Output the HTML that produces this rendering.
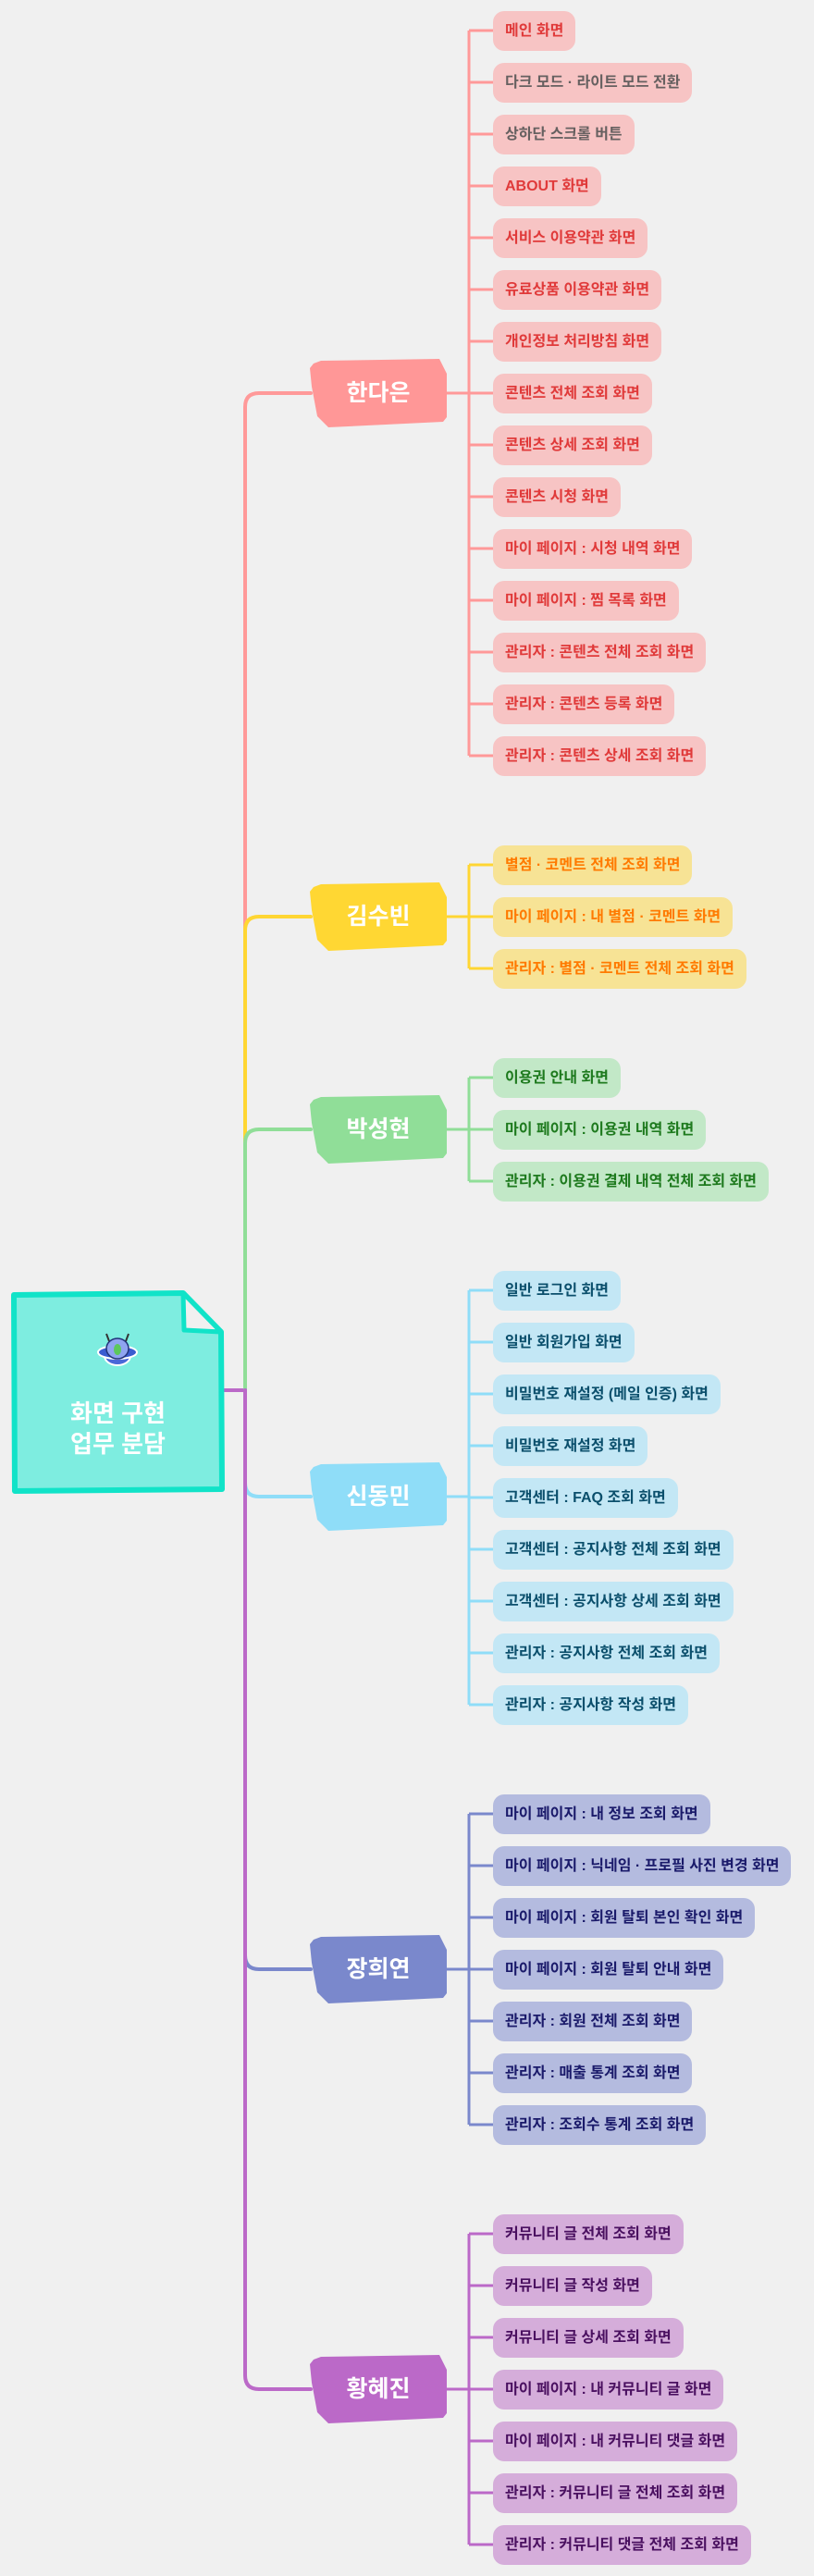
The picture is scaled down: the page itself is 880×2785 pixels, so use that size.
<!DOCTYPE html>
<html><head><meta charset="utf-8"><style>
html,body{margin:0;padding:0}
body{width:880px;height:2785px;background:#f0f0f0;position:relative;overflow:hidden;font-family:"Liberation Sans","Noto Sans CJK KR",sans-serif}
.leaf{position:absolute;left:533px;height:43px;line-height:43px;padding:0 13px;border-radius:12px;font-size:16px;font-weight:bold;white-space:nowrap;box-sizing:border-box}
.main{position:absolute;left:335px;width:148px;height:75px;text-align:center;line-height:75px;color:#fff;font-size:25px;font-weight:bold}
.main svg{position:absolute;left:0;top:0}
.main span{position:relative}
</style></head><body>
<svg width="880" height="2785" style="position:absolute;left:0;top:0" fill="none">
<g stroke-width="4" stroke-linecap="round">
<path d="M241 1503 H265" stroke="#bb69c8"/>
<path d="M265 1503 V440 Q265 425 280 425 H336" stroke="#ff9999"/>
<path d="M265 1503 V1006 Q265 991 280 991 H336" stroke="#ffd633"/>
<path d="M265 1503 V1236 Q265 1221 280 1221 H336" stroke="#90de98"/>
<path d="M265 1503 V1603 Q265 1618 280 1618 H336" stroke="#8fddf8"/>
<path d="M265 1503 V2114 Q265 2129 280 2129 H336" stroke="#7a88cc"/>
<path d="M265 1503 V2568 Q265 2583 280 2583 H336" stroke="#bb69c8"/>
</g>
<g stroke-width="3">
<path d="M483 425 H507 M507 33 V817" stroke="#ff9999"/>
<path d="M483 991 H507 M507 935 V1047" stroke="#ffd633"/>
<path d="M483 1221 H507 M507 1165 V1277" stroke="#90de98"/>
<path d="M483 1618 H507 M507 1395 V1843" stroke="#8fddf8"/>
<path d="M483 2129 H507 M507 1961 V2297" stroke="#7a88cc"/>
<path d="M483 2583 H507 M507 2415 V2751" stroke="#bb69c8"/>
</g>
<g stroke-width="3" id="ticks"></g>
<path d="M15 1400 L198 1398 L239 1440 L240 1610 L16 1612 Z" fill="#7eede0" stroke="#11e3c8" stroke-width="6" stroke-linejoin="round"/>
<path d="M198 1398 L199 1438 L239 1440 Z" fill="#f0f0f0" stroke="#11e3c8" stroke-width="5" stroke-linejoin="round"/>
<g transform="translate(127 1462)">
<line x1="-9" y1="-12" x2="-12" y2="-20" stroke="#333" stroke-width="2"/>
<line x1="9" y1="-12" x2="12" y2="-20" stroke="#333" stroke-width="2"/>
<ellipse cx="0" cy="4" rx="14" ry="10" fill="#4a68d8" stroke="#fff" stroke-width="2"/>
<ellipse cx="0" cy="0" rx="21" ry="7" fill="#3a5cd0" stroke="#fff" stroke-width="2"/>
<ellipse cx="0" cy="-4" rx="12" ry="11" fill="#8fa4f0" stroke="#22337a" stroke-width="1.5"/>
<ellipse cx="0" cy="-3" rx="4" ry="6" fill="#5cc85c"/>
</g>
</svg>
<div style="position:absolute;left:14px;width:227px;top:1512px;text-align:center;color:#fff;font-size:26px;font-weight:bold;line-height:33px">화면 구현<br>업무 분담</div>

<svg width="0" height="0" style="position:absolute"><defs><polygon id="mn" points="0,10 4,5 12,2 140,0 148,16 148,63 144,68 20,74 8,62 2,30"/></defs></svg>

<div class="main" style="top:388px"><svg width="148" height="75"><use href="#mn" fill="#ff9797"/></svg><span>한다은</span></div>
<div class="main" style="top:954px"><svg width="148" height="75"><use href="#mn" fill="#ffd733"/></svg><span>김수빈</span></div>
<div class="main" style="top:1184px"><svg width="148" height="75"><use href="#mn" fill="#90de98"/></svg><span>박성현</span></div>
<div class="main" style="top:1581px"><svg width="148" height="75"><use href="#mn" fill="#8fddf8"/></svg><span>신동민</span></div>
<div class="main" style="top:2092px"><svg width="148" height="75"><use href="#mn" fill="#7a88cc"/></svg><span>장희연</span></div>
<div class="main" style="top:2546px"><svg width="148" height="75"><use href="#mn" fill="#bb69c8"/></svg><span>황혜진</span></div>

<div id="leaves"></div>
<script>
var groups=[
 [33,'#ff9999','#f7c4c4','#e03a3a',['메인 화면','다크 모드 · 라이트 모드 전환','상하단 스크롤 버튼','ABOUT 화면','서비스 이용약관 화면','유료상품 이용약관 화면','개인정보 처리방침 화면','콘텐츠 전체 조회 화면','콘텐츠 상세 조회 화면','콘텐츠 시청 화면','마이 페이지 : 시청 내역 화면','마이 페이지 : 찜 목록 화면','관리자 : 콘텐츠 전체 조회 화면','관리자 : 콘텐츠 등록 화면','관리자 : 콘텐츠 상세 조회 화면']],
 [935,'#ffd633','#f7e395','#ff7a00',['별점 · 코멘트 전체 조회 화면','마이 페이지 : 내 별점 · 코멘트 화면','관리자 : 별점 · 코멘트 전체 조회 화면']],
 [1165,'#90de98','#c2e8c7','#1e7a1e',['이용권 안내 화면','마이 페이지 : 이용권 내역 화면','관리자 : 이용권 결제 내역 전체 조회 화면']],
 [1395,'#8fddf8','#c3e7f5','#0b4f6c',['일반 로그인 화면','일반 회원가입 화면','비밀번호 재설정 (메일 인증) 화면','비밀번호 재설정 화면','고객센터 : FAQ 조회 화면','고객센터 : 공지사항 전체 조회 화면','고객센터 : 공지사항 상세 조회 화면','관리자 : 공지사항 전체 조회 화면','관리자 : 공지사항 작성 화면']],
 [1961,'#7a88cc','#b4bbdf','#1a1a6a',['마이 페이지 : 내 정보 조회 화면','마이 페이지 : 닉네임 · 프로필 사진 변경 화면','마이 페이지 : 회원 탈퇴 본인 확인 화면','마이 페이지 : 회원 탈퇴 안내 화면','관리자 : 회원 전체 조회 화면','관리자 : 매출 통계 조회 화면','관리자 : 조회수 통계 조회 화면']],
 [2415,'#bb69c8','#d5adda','#4a1060',['커뮤니티 글 전체 조회 화면','커뮤니티 글 작성 화면','커뮤니티 글 상세 조회 화면','마이 페이지 : 내 커뮤니티 글 화면','마이 페이지 : 내 커뮤니티 댓글 화면','관리자 : 커뮤니티 글 전체 조회 화면','관리자 : 커뮤니티 댓글 전체 조회 화면']]
];
var h='',t='';
groups.forEach(function(g,gi){g[4].forEach(function(s,i){var y=g[0]+i*56;var c=g[3];if(gi==0&&(i==1||i==2))c='#666060';
h+='<div class="leaf" style="top:'+(y-21.5)+'px;background:'+g[2]+';color:'+c+'">'+s+'</div>';
t+='<path d="M507 '+y+' H534" stroke="'+g[1]+'"/>';});});
document.getElementById('leaves').innerHTML=h;
document.getElementById('ticks').innerHTML=t;
</script>
</body></html>
